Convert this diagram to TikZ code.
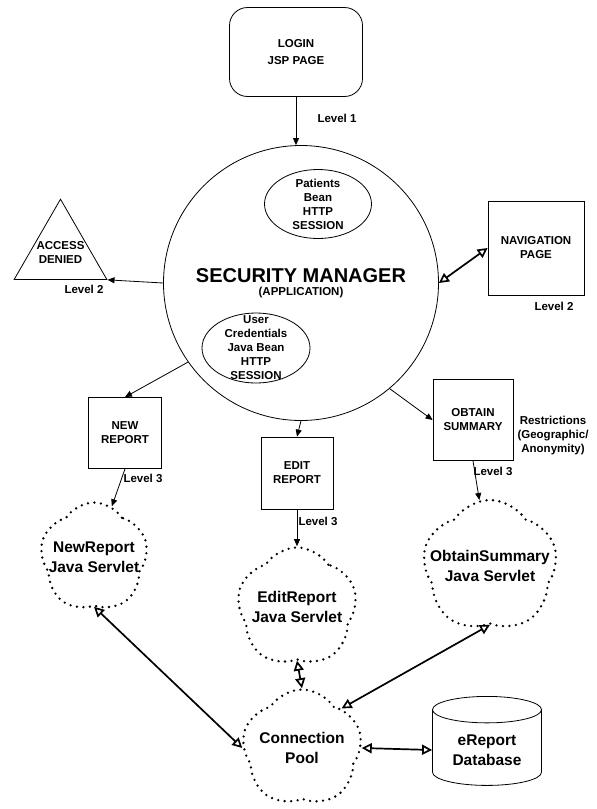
\documentclass[tikz,border=0pt]{standalone}
\usepackage{fontspec}
\setmainfont{Liberation Sans}
\usetikzlibrary{arrows.meta,positioning,shapes.geometric,shapes.symbols}

\begin{document}
\begin{tikzpicture}[x=1pt,y=-1pt,
  every node/.style={align=center,font=\bfseries\fontsize{11.5}{14}\selectfont},
  box/.style={draw,thick,minimum width=73pt,minimum height=72pt},
  bean/.style={ellipse,draw,thick,minimum width=107pt,minimum height=69pt},
  lvl/.style={inner sep=0pt},
  servlet/.style={cloud,cloud puffs=5,cloud puff arc=115,cloud ignores aspect,draw,line width=2.6pt,
    dash pattern=on 0pt off 6.5pt,line cap=round,minimum width=115pt,minimum height=114pt},
  ctext/.style={font=\bfseries\fontsize{15.5}{19.5}\selectfont,align=center},
  one/.style={-{Triangle[length=7pt,width=6pt]},thick},
  both/.style={{Triangle[open,length=10pt,width=10pt]}-{Triangle[open,length=10pt,width=10pt]},line width=1.7pt}]
\useasboundingbox (0,0) rectangle (597,809);

\node[box,rounded corners=18pt,minimum width=133pt,minimum height=89pt,
  font=\bfseries\fontsize{11.5}{17}\selectfont] (login) at (296,52) {LOGIN\\JSP PAGE};
\node[circle,draw,thick,minimum size=275pt] (sec) at (301,283)
  {\fontsize{20}{24}\selectfont SECURITY MANAGER\\[-1pt]\fontsize{11.5}{14}\selectfont(APPLICATION)};
\node[bean,label={[lvl]center:Patients\\Bean\\HTTP\\SESSION}] (pat) at (318,204) {};
\node[bean,minimum width=108pt,minimum height=70pt,
  label={[lvl]center:User\\Credentials\\Java Bean\\HTTP\\SESSION}] (cred) at (256,348) {};
\node[regular polygon,regular polygon sides=3,draw,thick,minimum size=107pt,inner sep=0pt,
  label={[lvl]center:ACCESS\\DENIED}] (acc) at (60.5,252.7) {};
\node[box,minimum width=96pt,minimum height=94pt] (nav) at (536,248) {NAVIGATION\\PAGE};
\node[box,minimum height=71pt] (newr) at (125,433) {NEW\\REPORT};
\node[box,minimum width=72pt] (edit) at (297,473) {EDIT\\REPORT};
\node[box,minimum width=80pt,minimum height=81pt] (obt) at (473,420) {OBTAIN\\SUMMARY};
\node[lvl] (restr) at (553,436) {Restrictions\\(Geographic/\\Anonymity)};

\node[servlet,minimum width=108pt,minimum height=109pt,
  label={[ctext]center:NewReport\\Java Servlet}] (nrc) at (94,557) {};
\node[servlet,minimum width=120pt,minimum height=119pt,shape border rotate=20,
  label={[ctext]center:EditReport\\Java Servlet}] (erc) at (297,607) {};
\node[servlet,minimum width=135pt,minimum height=132pt,shape border rotate=-15,
  label={[ctext]center:ObtainSummary\\Java Servlet}] (osc) at (490,566) {};
\node[servlet,minimum width=120pt,minimum height=117pt,shape border rotate=35,
  label={[ctext]center:Connection\\Pool}] (cp) at (302,748) {};
\node[cylinder,shape border rotate=90,draw,thick,aspect=0.35,minimum width=109pt,minimum height=89pt,
  ctext] (db) at (487,750) {eReport\\Database};

% level labels
\node[lvl] (l1) at (337,118) {Level 1};
\node[lvl] (l2a) at (84,289) {Level 2};
\node[lvl] (l2b) at (554,306) {Level 2};
\node[lvl] (l3a) at (143,478) {Level 3};
\node[lvl] (l3b) at (318,521) {Level 3};
\node[lvl] (l3c) at (493,471) {Level 3};

\path[one]
          (login.south) edge (login.south |- sec.north)
          (sec.west)    edge (acc.corner 3)
          (sec.215)     edge (newr.north)
          (sec.south)   edge (edit.north)
          (sec.-50)     edge (obt.west)
          (newr.south)  edge (nrc)
          (edit.south)  edge (erc)
          (obt.south)   edge (osc);
\path[both]
          (sec.east)    edge (nav.west)
          (nrc.south)   edge (cp.west)
          (erc.south)   edge (cp.north)
          (osc.south)   edge (cp.45)
          (cp.east)     edge (db.west);
\end{tikzpicture}
\end{document}
